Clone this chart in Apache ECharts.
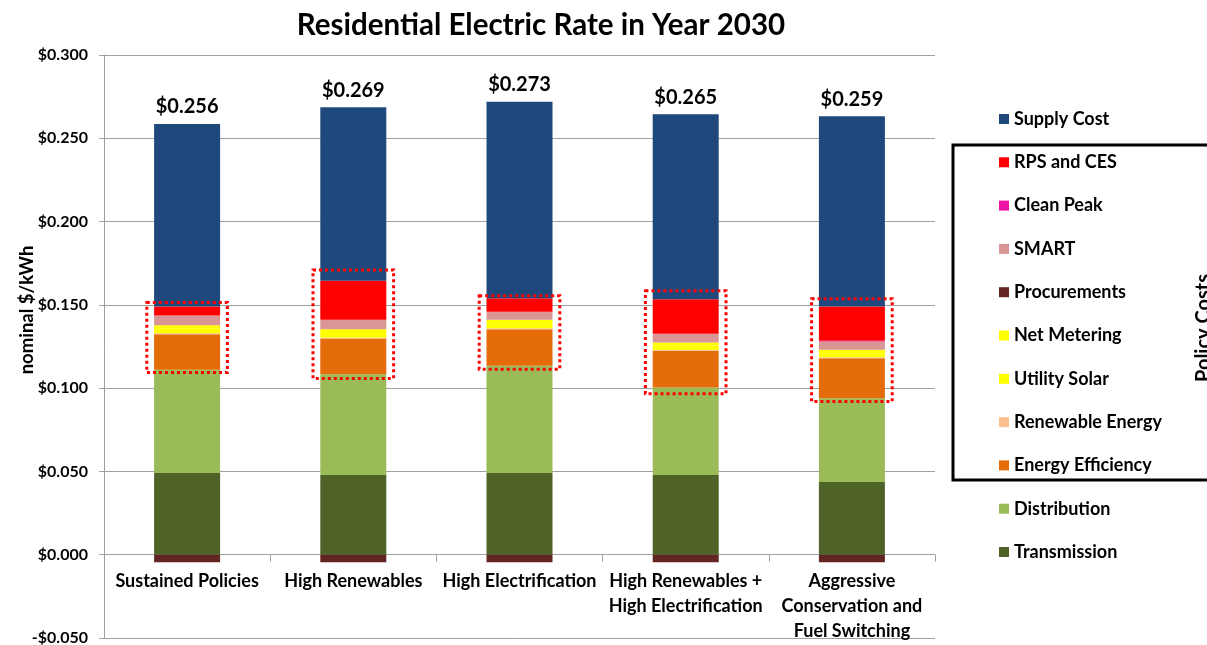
<!DOCTYPE html>
<html>
<head>
<meta charset="utf-8">
<script src="https://cdn.jsdelivr.net/npm/echarts@6/dist/echarts.min.js"></script>
<style>html,body{margin:0;padding:0;background:#fff}#c{width:1207px;height:645px}</style>
</head>
<body>
<div id="c"></div>
<script>
const categories = ['Sustained Policies', 'High Renewables', 'High Electrification', 'High Renewables +\nHigh Electrification', 'Aggressive\nConservation and\nFuel Switching'];
const transmission = [0.0490, 0.0478, 0.0490, 0.0478, 0.0436];
const distribution = [0.0620, 0.0606, 0.0644, 0.0526, 0.0504];
const energyEfficiency = [0.0214, 0.0214, 0.0220, 0.0220, 0.0240];
const renewableEnergy = [0.0005, 0.0005, 0.0005, 0.0005, 0.0005];
const utilitySolar = [0.0027, 0.0028, 0.0028, 0.0025, 0.0025];
const netMetering = [0.0022, 0.0023, 0.0023, 0.0020, 0.0020];
const procurements = [-0.0045, -0.0045, -0.0045, -0.0045, -0.0045];
const smart = [0.0058, 0.0056, 0.0048, 0.0052, 0.0050];
const cleanPeak = [0.0000, 0.0000, 0.0000, 0.0000, 0.0004];
const rpsCes = [0.0054, 0.0234, 0.0082, 0.0208, 0.0206];
const supplyCost = [0.1096, 0.1042, 0.1180, 0.1110, 0.1142];
const totalLabels = ['$0.256', '$0.269', '$0.273', '$0.265', '$0.259'];
const policyBoxLow = [0.1094, 0.1058, 0.1114, 0.0966, 0.0920];
const policyBoxHigh = [0.1514, 0.1710, 0.1554, 0.1584, 0.1536];
const yTicks = [-0.05, 0, 0.05, 0.1, 0.15, 0.2, 0.25, 0.3];

const FONT = 'Lato, "Open Sans", sans-serif';
const GRID_TOP = 55, GRID_BOTTOM = 7, H = 645;
const plotH = H - GRID_TOP - GRID_BOTTOM;
const yMin = yTicks[0], yMax = yTicks[yTicks.length - 1];
const zeroOffset = plotH * (0 - yMin) / (yMax - yMin);

const colors = {
  'Supply Cost': '#1F497D', 'RPS and CES': '#FF0000', 'Clean Peak': '#EC14A4', 'SMART': '#D99694',
  'Procurements': '#632523', 'Net Metering': '#FFFF00', 'Utility Solar': '#FFFF00',
  'Renewable Energy': '#FAC090', 'Energy Efficiency': '#E46C0A', 'Distribution': '#9BBB59', 'Transmission': '#4F6228'
};
const stackOrder = [
  ['Transmission', transmission], ['Distribution', distribution], ['Energy Efficiency', energyEfficiency],
  ['Renewable Energy', renewableEnergy], ['Utility Solar', utilitySolar], ['Net Metering', netMetering],
  ['Procurements', procurements], ['SMART', smart], ['Clean Peak', cleanPeak], ['RPS and CES', rpsCes],
  ['Supply Cost', supplyCost]
];
const legendOrder = ['Supply Cost', 'RPS and CES', 'Clean Peak', 'SMART', 'Procurements', 'Net Metering',
  'Utility Solar', 'Renewable Energy', 'Energy Efficiency', 'Distribution', 'Transmission'];

const series = stackOrder.map(([name, vals]) => {
  const s = {
    name, type: 'bar', stack: 'total', barWidth: 66, data: vals,
    itemStyle: { color: colors[name] }, emphasis: { disabled: true }
  };
  if (name === 'Supply Cost') {
    s.label = {
      show: true, position: 'top', distance: 7,
      formatter: p => totalLabels[p.dataIndex],
      fontFamily: FONT, fontWeight: 'bold', fontSize: 20, color: '#000'
    };
  }
  return s;
});
series.push({
  type: 'custom', name: 'box', z: 10, silent: true,
  data: categories.map((c, i) => [i, policyBoxLow[i], policyBoxHigh[i]]),
  renderItem: function (params, api) {
    const i = api.value(0);
    const top = api.coord([i, api.value(2)]);
    const bot = api.coord([i, api.value(1)]);
    const w = api.size([1, 0])[0] * 0.485;
    return {
      type: 'rect',
      shape: { x: top[0] - w / 2, y: top[1], width: w, height: bot[1] - top[1] },
      style: { fill: 'none', stroke: '#FF0000', lineWidth: 3, lineDash: [3, 3] }
    };
  }
});

const chart = echarts.init(document.getElementById('c'), null, { renderer: 'canvas' });
chart.setOption({
  animation: false,
  backgroundColor: '#fff',
  title: {
    text: 'Residential Electric Rate in Year 2030', left: 536, top: 5, textAlign: 'center',
    textStyle: { fontFamily: FONT, fontWeight: 'bold', fontSize: 29.5, color: '#000' }
  },
  grid: { left: 104, right: 272, top: GRID_TOP, bottom: GRID_BOTTOM, containLabel: false, outerBoundsMode: 'none' },
  legend: {
    orient: 'vertical', left: 994, top: 104, data: legendOrder,
    icon: 'rect', itemWidth: 10, itemHeight: 10, itemGap: 23.3, selectedMode: false,
    textStyle: { fontFamily: FONT, fontWeight: 'bold', fontSize: 18, color: '#000', lineHeight: 20 }
  },
  xAxis: {
    type: 'category', data: categories, position: 'bottom', offset: -zeroOffset,
    axisLine: { show: true, onZero: false, lineStyle: { color: '#A0A0A0', width: 1 } },
    axisTick: { show: true, length: 7, lineStyle: { color: '#A0A0A0' } },
    axisLabel: { interval: 0, margin: 14, fontFamily: FONT, fontWeight: 'bold', fontSize: 18, color: '#000', lineHeight: 25 }
  },
  yAxis: {
    type: 'value', min: yMin, max: yMax, interval: 0.05,
    axisLine: { show: true, lineStyle: { color: '#A0A0A0' } },
    axisTick: { show: true, length: 5, lineStyle: { color: '#A0A0A0' } },
    splitLine: { show: true, lineStyle: { color: '#A0A0A0', width: 1 } },
    axisLabel: {
      margin: 16, fontFamily: FONT, fontWeight: 'bold', fontSize: 16, color: '#000',
      formatter: v => (v < 0 ? '-$' : '$') + Math.abs(v).toFixed(3)
    }
  },
  graphic: [
    {
      type: 'text', x: 27, y: 310, rotation: Math.PI / 2,
      style: { text: 'nominal $/kWh', fontFamily: FONT, fontWeight: 'bold', fontSize: 18.5, fill: '#000', align: 'center', verticalAlign: 'middle' }
    },
    {
      type: 'rect', shape: { x: 953, y: 145, width: 270, height: 335 },
      style: { fill: 'none', stroke: '#000', lineWidth: 3 }
    },
    {
      type: 'text', x: 1204, y: 328, rotation: Math.PI / 2,
      style: { text: 'Policy Costs', fontFamily: FONT, fontWeight: 'bold', fontSize: 20, fill: '#000', align: 'center', verticalAlign: 'middle' }
    }
  ],
  series
});
</script>
</body>
</html>
